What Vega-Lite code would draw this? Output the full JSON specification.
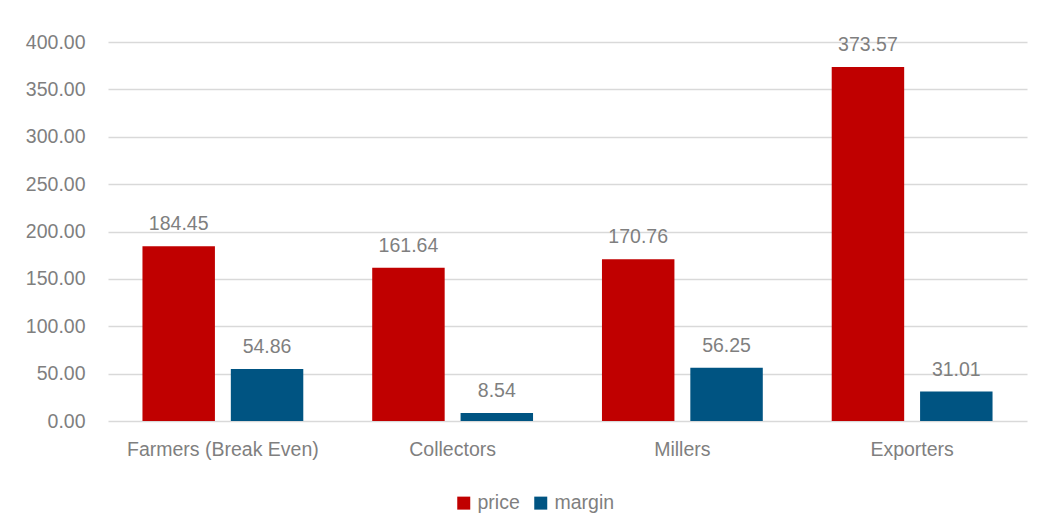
{
  "$schema": "https://vega.github.io/schema/vega-lite/v6.json",
  "autosize": {"type": "none"},
  "width": 919,
  "height": 379,
  "padding": {"left": 108, "top": 42, "right": 14, "bottom": 109},
  "background": "white",
  "config": {
    "view": {"stroke": null},
    "font": "Liberation Sans",
    "axis": {"labelFont": "Liberation Sans", "labelColor": "#7f7f7f", "labelFontSize": 19.5, "labelLimit": 0, "domain": false, "ticks": false, "title": null, "gridColor": "#d9d9d9", "gridWidth": 1.5},
    "legend": {"labelFont": "Liberation Sans", "labelColor": "#7f7f7f", "labelFontSize": 19.5}
  },
  "data": {
    "values": [
      {"stage": "Farmers (Break Even)", "series": "price", "value": 184.45},
      {"stage": "Farmers (Break Even)", "series": "margin", "value": 54.86},
      {"stage": "Collectors", "series": "price", "value": 161.64},
      {"stage": "Collectors", "series": "margin", "value": 8.54},
      {"stage": "Millers", "series": "price", "value": 170.76},
      {"stage": "Millers", "series": "margin", "value": 56.25},
      {"stage": "Exporters", "series": "price", "value": 373.57},
      {"stage": "Exporters", "series": "margin", "value": 31.01}
    ]
  },
  "encoding": {
    "x": {"field": "stage", "type": "nominal", "sort": null,
      "scale": {"paddingInner": 0.3, "paddingOuter": 0.15},
      "axis": {"labelAngle": 0, "labelPadding": 19, "grid": false}},
    "xOffset": {"field": "series", "type": "nominal", "sort": ["price", "margin"],
      "scale": {"paddingInner": 0.18, "paddingOuter": 0}},
    "y": {"field": "value", "type": "quantitative",
      "scale": {"domain": [0, 400], "nice": false},
      "axis": {"values": [0, 50, 100, 150, 200, 250, 300, 350, 400], "format": ".2f", "labelPadding": 23, "grid": true}}
  },
  "layer": [
    {
      "mark": {"type": "bar"},
      "encoding": {
        "color": {"field": "series", "type": "nominal",
          "scale": {"domain": ["price", "margin"], "range": ["#c00000", "#005482"]},
          "legend": {"title": null, "orient": "none", "legendX": 346, "legendY": 451, "direction": "horizontal", "symbolType": "square", "symbolSize": 169, "symbolStrokeWidth": 0, "columnPadding": 11, "labelOffset": 4}}
      }
    },
    {
      "mark": {"type": "text", "baseline": "alphabetic", "dy": -16, "fontSize": 19.5, "color": "#7f7f7f", "font": "Liberation Sans"},
      "encoding": {
        "text": {"field": "value", "type": "quantitative", "format": ".2f"}
      }
    }
  ]
}
